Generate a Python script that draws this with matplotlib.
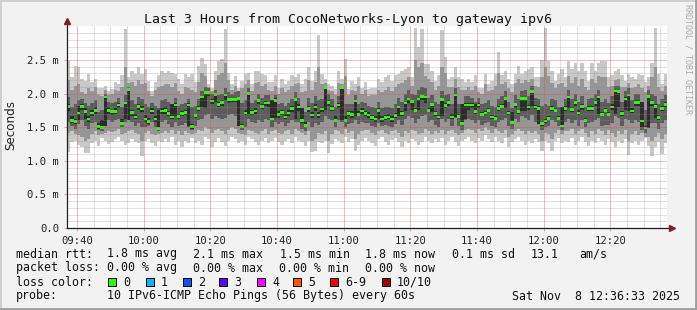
import numpy as np
import matplotlib
matplotlib.use("Agg")
import matplotlib.pyplot as plt

W, H = 697, 310
MONO = "DejaVu Sans Mono"

# minutes since 09:37, one value per minute (ms)
median = [1.81,1.60,1.58,1.71,1.81,1.73,1.62,1.71,1.75,1.51,1.50,1.95,1.75,1.73,1.73,1.83,1.56,1.86,2.06,1.72,1.65,1.81,1.77,1.62,1.58,1.74,1.62,1.48,1.74,1.75,
          1.70,1.65,1.83,1.66,1.70,1.72,1.83,1.51,1.67,1.78,1.95,2.02,2.02,1.89,1.99,1.84,1.87,1.98,1.91,1.91,1.91,1.93,1.51,1.71,2.00,1.72,1.74,1.90,1.81,1.86,
          1.86,1.62,1.90,1.69,1.72,1.65,1.71,1.78,1.91,1.80,1.60,1.53,1.78,1.68,1.80,1.68,1.77,2.09,1.87,1.78,1.60,1.83,2.09,1.60,1.70,1.69,1.89,1.69,1.74,1.70,
          1.68,1.64,1.62,1.75,1.62,1.64,1.65,1.62,1.67,1.80,1.70,1.86,1.92,1.88,1.75,1.92,1.96,1.95,1.75,1.84,1.70,1.65,1.91,1.82,1.87,1.65,1.98,1.66,1.56,1.83,
          1.83,1.83,1.73,1.83,1.69,1.71,1.75,1.65,1.63,1.78,1.81,1.93,1.71,1.57,1.84,1.73,1.93,1.93,1.80,2.03,1.80,1.78,1.55,1.59,1.63,1.78,1.75,1.63,1.52,1.78,
          1.95,1.76,1.87,1.71,1.81,1.60,1.78,1.78,1.87,1.95,1.69,1.75,1.69,1.80,2.04,2.03,1.70,1.92,1.98,1.74,1.87,1.87,1.59,1.49,1.96,1.87,1.81,1.64,1.78,1.84]

ping_max = [2.49,2.24,2.41,2.39,2.22,2.19,2.29,2.17,2.22,2.09,2.09,2.12,2.04,2.07,2.17,2.14,2.27,2.96,2.24,2.34,2.29,2.39,2.29,2.36,2.19,2.04,2.17,2.27,2.34,2.30,
            2.34,2.31,2.29,2.22,2.14,2.29,2.24,2.29,2.17,2.41,2.53,2.44,2.14,2.09,2.34,2.49,2.51,2.96,2.31,2.14,2.26,2.09,2.19,2.29,2.31,2.14,2.34,2.34,2.29,2.27,
            2.17,2.17,2.27,2.09,2.22,2.14,2.19,2.27,2.24,2.29,2.14,2.22,2.39,2.19,2.34,2.87,2.29,2.22,2.14,2.12,2.07,2.34,2.22,2.51,2.07,2.19,2.14,2.24,2.09,2.17,
            2.07,2.09,2.09,2.22,2.17,2.24,2.27,2.19,2.27,2.29,2.34,2.36,2.39,2.24,2.97,2.70,2.96,2.44,2.44,2.34,2.19,2.27,2.95,2.55,2.22,2.24,2.39,2.24,2.22,2.17,
            2.22,2.17,2.27,2.09,2.09,2.29,2.14,2.19,2.29,2.62,2.27,2.34,2.22,2.14,2.29,2.41,2.29,2.34,2.36,2.39,2.24,2.24,2.50,2.97,2.49,2.34,2.19,2.29,2.36,2.24,
            2.48,2.36,2.46,2.34,2.46,2.34,2.19,2.46,2.34,2.46,2.49,2.49,2.24,2.27,2.34,2.36,2.27,2.19,2.29,2.24,2.22,2.29,2.27,2.17,2.24,2.46,2.97,2.29,2.14,2.29]

ping_min = [1.13,1.28,1.30,1.24,1.20,1.11,1.12,1.26,1.30,1.22,1.34,1.30,1.25,1.28,1.33,1.36,1.30,1.24,1.27,1.32,1.28,1.26,1.07,1.30,1.32,1.26,1.22,1.30,1.28,1.33,
            1.28,1.36,1.24,1.30,1.20,1.30,1.26,1.34,1.27,1.30,1.24,1.36,1.32,1.20,1.28,1.34,1.28,1.22,1.30,1.36,1.33,1.26,1.30,1.24,1.35,1.32,1.28,1.23,1.30,1.34,
            1.26,1.30,1.34,1.28,1.24,1.30,1.32,1.26,1.36,1.30,1.28,1.22,1.30,1.13,1.14,1.28,1.26,1.30,1.11,1.25,1.33,1.30,1.26,1.36,1.28,1.32,1.15,1.24,1.30,1.34,
            1.30,1.26,1.22,1.32,1.36,1.28,1.24,1.31,1.34,1.28,1.20,1.30,1.27,1.33,1.30,1.24,1.28,1.35,1.30,1.26,1.32,1.28,1.34,1.24,1.30,1.36,1.28,1.22,1.30,1.33,
            1.36,1.30,1.26,1.34,1.30,1.38,1.32,1.28,1.36,1.30,1.26,1.34,1.20,1.28,1.32,1.36,1.30,1.24,1.30,1.26,1.32,1.28,1.14,1.30,1.26,1.15,1.30,1.34,1.26,1.30,
            1.28,1.34,1.24,1.30,1.36,1.28,1.22,1.30,1.26,1.34,1.30,1.24,1.32,1.28,1.20,1.30,1.26,1.33,1.09,1.26,1.30,1.24,1.30,1.34,1.22,1.07,1.20,1.28,1.10,1.26]

# 2nd / 9th ping
hi2 = [2.20,2.05,2.12,2.15,2.02,2.00,2.08,2.04,2.10,1.98,1.96,2.05,1.98,2.00,2.06,2.04,2.10,2.40,2.16,2.18,2.12,2.20,2.14,2.16,2.04,1.96,2.06,2.10,2.12,2.15,
       2.14,2.10,2.16,2.04,2.00,2.10,2.08,2.06,2.02,2.18,2.30,2.26,2.10,2.04,2.20,2.28,2.30,2.45,2.20,2.06,2.12,2.04,2.08,2.14,2.20,2.04,2.16,2.18,2.12,2.14,
       2.06,2.04,2.12,2.00,2.08,2.02,2.06,2.12,2.14,2.16,2.02,2.04,2.20,2.06,2.18,2.40,2.14,2.16,2.06,2.04,1.98,2.16,2.14,2.26,1.98,2.06,2.04,2.12,2.00,2.06,
       1.96,1.98,1.98,2.06,2.02,2.06,2.10,2.04,2.10,2.14,2.16,2.20,2.24,2.12,2.50,2.40,2.46,2.26,2.22,2.18,2.06,2.12,2.40,2.30,2.10,2.10,2.22,2.10,2.06,2.06,
       2.10,2.06,2.12,2.02,2.00,2.14,2.04,2.06,2.12,2.30,2.14,2.18,2.08,2.02,2.16,2.22,2.16,2.20,2.18,2.22,2.12,2.10,2.24,2.40,2.26,2.16,2.08,2.14,2.16,2.10,
       2.26,2.16,2.24,2.12,2.22,2.10,2.06,2.22,2.16,2.26,2.24,2.24,2.10,2.12,2.20,2.22,2.10,2.10,2.16,2.08,2.10,2.14,2.08,2.02,2.12,2.24,2.40,2.10,2.04,2.12]
lo2 = [1.42,1.45,1.40,1.38,1.36,1.30,1.32,1.40,1.44,1.38,1.40,1.42,1.44,1.43,1.45,1.48,1.40,1.42,1.45,1.46,1.42,1.40,1.30,1.42,1.45,1.40,1.38,1.40,1.42,1.45,
       1.42,1.46,1.40,1.44,1.38,1.44,1.42,1.40,1.42,1.46,1.44,1.50,1.48,1.42,1.46,1.48,1.44,1.40,1.46,1.50,1.48,1.42,1.40,1.38,1.46,1.45,1.42,1.40,1.44,1.48,
       1.40,1.44,1.46,1.42,1.40,1.44,1.46,1.40,1.48,1.44,1.42,1.38,1.44,1.30,1.32,1.42,1.40,1.44,1.30,1.40,1.46,1.44,1.40,1.48,1.42,1.44,1.32,1.40,1.44,1.46,
       1.46,1.42,1.38,1.44,1.46,1.42,1.40,1.44,1.46,1.42,1.36,1.44,1.42,1.46,1.44,1.40,1.42,1.48,1.44,1.40,1.44,1.42,1.46,1.40,1.44,1.46,1.42,1.38,1.42,1.46,
       1.48,1.46,1.42,1.48,1.44,1.50,1.46,1.42,1.48,1.44,1.42,1.46,1.36,1.40,1.44,1.48,1.44,1.40,1.44,1.42,1.44,1.40,1.30,1.42,1.40,1.32,1.42,1.46,1.40,1.44,
       1.44,1.48,1.40,1.44,1.48,1.42,1.36,1.44,1.40,1.48,1.44,1.38,1.46,1.42,1.36,1.44,1.40,1.46,1.30,1.40,1.44,1.38,1.42,1.36,1.36,1.30,1.36,1.42,1.32,1.40]

# 3rd..8th ping
hi3 = [1.95,1.80,1.85,1.90,1.92,1.86,1.82,1.86,1.90,1.72,1.75,2.00,1.88,1.86,1.88,1.94,1.80,1.98,2.10,1.90,1.85,1.95,1.92,1.84,1.80,1.86,1.82,1.78,1.90,1.92,
       1.88,1.85,1.94,1.82,1.84,1.86,1.92,1.80,1.82,1.92,2.04,2.10,2.08,2.00,2.06,1.98,2.00,2.08,2.02,2.00,2.02,2.04,1.86,1.90,2.08,1.86,1.90,2.00,1.94,1.98,
       1.98,1.86,1.98,1.84,1.86,1.82,1.86,1.92,2.02,1.94,1.78,1.72,1.94,1.86,1.96,1.90,1.92,2.12,2.00,1.92,1.80,1.96,2.12,1.84,1.84,1.84,1.98,1.84,1.88,1.86,
       1.82,1.80,1.78,1.88,1.78,1.80,1.80,1.78,1.84,1.94,1.88,2.00,2.06,2.00,1.98,2.06,2.10,2.08,1.94,1.98,1.88,1.84,2.04,1.98,2.00,1.84,2.08,1.84,1.80,1.96,
       1.96,1.94,1.88,1.94,1.84,1.86,1.90,1.82,1.80,1.92,1.96,2.04,1.88,1.78,1.98,1.92,2.04,2.06,1.96,2.12,1.94,1.92,1.82,1.84,1.82,1.92,1.90,1.80,1.76,1.92,
       2.06,1.92,2.00,1.88,1.96,1.80,1.92,1.94,2.00,2.06,1.88,1.92,1.86,1.96,2.12,2.12,1.88,2.04,2.08,1.90,2.00,2.00,1.80,1.76,2.06,2.00,1.96,1.84,1.92,1.98]
lo3 = [1.58,1.52,1.48,1.55,1.60,1.52,1.48,1.56,1.58,1.46,1.45,1.55,1.60,1.58,1.60,1.62,1.50,1.58,1.62,1.58,1.52,1.56,1.50,1.50,1.52,1.58,1.50,1.45,1.58,1.60,
       1.55,1.50,1.58,1.52,1.54,1.56,1.50,1.46,1.52,1.60,1.62,1.68,1.70,1.62,1.66,1.64,1.62,1.64,1.68,1.70,1.66,1.60,1.46,1.50,1.62,1.58,1.56,1.60,1.58,1.62,
       1.60,1.50,1.58,1.55,1.58,1.52,1.56,1.60,1.58,1.58,1.48,1.45,1.58,1.50,1.56,1.54,1.58,1.66,1.62,1.60,1.50,1.60,1.58,1.50,1.55,1.56,1.60,1.55,1.58,1.56,
       1.56,1.52,1.50,1.56,1.52,1.54,1.52,1.50,1.55,1.60,1.54,1.62,1.66,1.64,1.56,1.62,1.66,1.68,1.58,1.60,1.54,1.50,1.62,1.58,1.62,1.52,1.64,1.52,1.46,1.60,
       1.62,1.60,1.56,1.60,1.54,1.56,1.58,1.52,1.50,1.58,1.60,1.64,1.52,1.48,1.62,1.58,1.66,1.64,1.60,1.68,1.58,1.56,1.46,1.50,1.52,1.60,1.58,1.52,1.46,1.58,
       1.62,1.56,1.60,1.52,1.60,1.50,1.56,1.58,1.60,1.64,1.52,1.54,1.54,1.56,1.66,1.64,1.52,1.62,1.60,1.56,1.60,1.58,1.46,1.42,1.60,1.56,1.56,1.48,1.56,1.60]

# 5th / 6th ping
core_hi = [1.84,1.66,1.62,1.82,1.84,1.78,1.66,1.75,1.80,1.56,1.60,1.97,1.80,1.76,1.78,1.86,1.62,1.88,2.08,1.76,1.70,1.84,1.82,1.68,1.63,1.78,1.66,1.76,1.78,1.80,
           1.74,1.84,1.86,1.70,1.74,1.76,1.86,1.55,1.70,1.82,1.97,2.04,2.04,1.92,2.01,1.88,1.90,2.00,1.94,1.94,1.94,1.95,1.55,1.75,2.02,1.76,1.78,1.92,1.84,1.89,
           1.88,1.90,1.93,1.74,1.76,1.70,1.76,1.82,1.93,1.84,1.78,1.58,1.82,1.72,1.84,1.72,1.80,2.11,1.90,1.82,1.66,1.86,2.11,1.66,1.74,1.74,1.91,1.74,1.78,1.74,
           1.72,1.68,1.66,1.78,1.66,1.68,1.69,1.66,1.71,1.82,1.74,1.88,1.94,1.90,1.78,1.94,1.98,1.97,1.78,1.86,1.74,1.68,1.93,1.86,1.90,1.69,2.00,1.70,1.84,1.86,
           1.86,1.86,1.84,1.86,1.72,1.74,1.78,1.68,1.66,1.82,1.84,1.95,1.74,1.72,1.86,1.76,1.95,1.95,1.83,2.05,1.83,1.81,1.58,1.62,1.66,1.81,1.78,1.66,1.80,1.81,
           1.97,1.80,1.90,1.76,1.84,1.64,1.82,1.82,1.90,1.97,1.72,1.78,1.72,1.84,2.06,2.05,1.74,1.95,2.00,1.78,1.90,1.90,1.87,1.52,1.98,1.90,1.84,1.68,1.82,1.87]
core_lo = [1.74,1.56,1.55,1.60,1.76,1.62,1.58,1.66,1.70,1.48,1.48,1.52,1.70,1.68,1.70,1.78,1.53,1.62,1.60,1.66,1.62,1.76,1.72,1.58,1.55,1.70,1.58,1.46,1.70,1.70,
           1.66,1.62,1.66,1.62,1.66,1.68,1.52,1.48,1.63,1.74,1.80,1.78,1.96,1.84,1.88,1.80,1.82,1.90,1.86,1.87,1.88,1.52,1.49,1.68,1.70,1.68,1.70,1.84,1.77,1.82,
           1.80,1.60,1.64,1.64,1.68,1.62,1.66,1.72,1.62,1.74,1.56,1.50,1.72,1.64,1.74,1.64,1.72,1.76,1.82,1.74,1.58,1.78,1.60,1.57,1.66,1.64,1.66,1.66,1.70,1.66,
           1.64,1.60,1.58,1.62,1.58,1.60,1.62,1.58,1.63,1.66,1.66,1.74,1.86,1.76,1.72,1.76,1.90,1.86,1.72,1.72,1.66,1.62,1.66,1.78,1.82,1.62,1.65,1.63,1.54,1.62,
           1.76,1.78,1.70,1.78,1.66,1.68,1.72,1.62,1.60,1.74,1.78,1.78,1.68,1.55,1.78,1.70,1.74,1.74,1.76,1.82,1.77,1.55,1.52,1.56,1.60,1.74,1.72,1.60,1.50,1.74,
           1.78,1.72,1.82,1.68,1.76,1.57,1.74,1.74,1.82,1.69,1.66,1.72,1.66,1.76,1.70,1.80,1.67,1.76,1.74,1.71,1.82,1.82,1.50,1.47,1.49,1.82,1.64,1.61,1.74,1.80]

time_labels = ["09:40", "10:00", "10:20", "10:40", "11:00", "11:20", "11:40", "12:00", "12:20"]
y_ticks = [0.0, 0.5, 1.0, 1.5, 2.0, 2.5]
y_labels = ["0.0", "0.5 m", "1.0 m", "1.5 m", "2.0 m", "2.5 m"]

loss_names = ["0", "1", "2", "3", "4", "5", "6-9", "10/10"]
loss_colors = ["#26ff00", "#00b8ff", "#0059ff", "#5e00ff", "#ff00ff", "#ff5500", "#ff0000", "#a10000"]


def fx(px):
    return px / W


def fy(py):
    return 1 - py / H


fig = plt.figure(figsize=(W / 100, H / 100), dpi=100, facecolor="#f2f2f2")
ax = fig.add_axes([fx(67), 82 / H, 600 / W, 201.6 / H])
ax.set_facecolor("white")

x = np.arange(len(median))
layers = [(ping_min, ping_max, "#c8c8c8"),
          (lo2, hi2, "#969696"),
          (lo3, hi3, "#5c5c5c"),
          (core_lo, core_hi, "#2c2c2c")]
for lo, hi, col in layers:
    lo = np.array(lo)
    hi = np.array(hi)
    ax.bar(x, hi - lo, bottom=lo, width=1.0, align="edge", color=col,
           linewidth=0, zorder=2)
med = np.array(median)
ax.bar(x, 0.04, bottom=med - 0.02, width=1.0, align="edge", color="#26ff00",
       linewidth=0, zorder=3)

ax.set_xlim(0, 180)
ax.set_ylim(0, 3.0)
major_t = [3 + 20 * k for k in range(len(time_labels))]

# light grid on top of the smoke (looks like rrdtool's dotted grid)
minor_c = (0.56, 0.56, 0.56, 0.25)
major_c = (0.87, 0.31, 0.31, 0.38)
gkw = dict(lw=0.72, zorder=4, snap=True)
for k in range(1, 30):
    ax.axhline(k * 0.1, color=major_c if k % 5 == 0 else minor_c, **gkw)
for t in range(3, 180, 5):
    ax.axvline(t, color=major_c if (t - 3) % 20 == 0 else minor_c, **gkw)

for s in ["top", "right", "bottom", "left"]:
    ax.spines[s].set_visible(False)

ax.set_xticks(major_t)
ax.set_xticklabels(time_labels, family=MONO, fontsize=7.6, color="#222222")
ax.set_yticks(y_ticks)
ax.set_yticklabels(y_labels, family=MONO, fontsize=7.6, color="#222222")
ax.tick_params(axis="both", length=2.5, width=0.72, color="#e8a0a0", pad=3)

# axes lines with arrows
ax.plot([0, 1.004], [0, 0], transform=ax.transAxes, color="#1f1f1f", lw=0.9,
        clip_on=False, zorder=6)
ax.plot([0, 0], [0, 1.02], transform=ax.transAxes, color="#1f1f1f", lw=0.9,
        clip_on=False, zorder=6)
ax.plot([1.009], [0], marker=">", transform=ax.transAxes, color="#801f1f",
        markersize=4, clip_on=False, zorder=7)
ax.plot([0], [1.025], marker="^", transform=ax.transAxes, color="#801f1f",
        markersize=4, clip_on=False, zorder=7)

fig.text(fx(11), fy(125), "Seconds", rotation=90, ha="center", va="center",
         fontsize=8.6, color="#222222")
fig.text(fx(348), fy(19), "Last 3 Hours from CocoNetworks-Lyon to gateway ipv6",
         ha="center", va="center", family=MONO, fontsize=9.5, color="#111111")
fig.text(fx(688), fy(4), "RRDTOOL / TOBI OETIKER", rotation=270, ha="center",
         va="top", family=MONO, fontsize=6, color="#aaaaaa")

fs = 8.4
rows = {
    254: [(16, "median rtt:"), (107, "1.8 ms avg"), (193, "2.1 ms max"),
          (280, "1.5 ms min"), (365, "1.8 ms now"), (452, "0.1 ms sd"),
          (531, "13.1"), (579, "am/s")],
    268: [(16, "packet loss:"), (107, "0.00 % avg"), (193, "0.00 % max"),
          (279, "0.00 % min"), (365, "0.00 % now")],
    282: [(16, "loss color:")],
    296: [(16, "probe:"), (107, "10 IPv6-ICMP Echo Pings (56 Bytes) every 60s")],
}
for yy, items in rows.items():
    for xx, s in items:
        fig.text(fx(xx), fy(yy), s, ha="left", va="center", family=MONO,
                 fontsize=fs, color="#111111")
fig.text(fx(680), fy(296), "Sat Nov  8 12:36:33 2025", ha="right", va="center",
         family=MONO, fontsize=fs, color="#111111")

sq_x = [108, 146, 183, 219, 257, 293, 330, 382]
for sx, name, col in zip(sq_x, loss_names, loss_colors):
    fig.patches.append(plt.Rectangle((fx(sx), fy(286)), 8 / W, 8 / H,
                                     transform=fig.transFigure, facecolor=col,
                                     edgecolor="#000000", lw=0.7))
    fig.text(fx(sx + 15), fy(282), name, ha="left", va="center", family=MONO,
             fontsize=fs, color="#111111")

# frame
fig.add_artist(plt.Line2D([0, 1], [fy(0.5), fy(0.5)], color="#cfcfcf", lw=1.4))
fig.add_artist(plt.Line2D([fx(0.5), fx(0.5)], [0, 1], color="#cfcfcf", lw=1.4))
fig.add_artist(plt.Line2D([0, 1], [fy(H - 1), fy(H - 1)], color="#9e9e9e", lw=2))
fig.add_artist(plt.Line2D([fx(W - 1), fx(W - 1)], [0, 1], color="#9e9e9e", lw=2))

fig.savefig("out.png", dpi=100, facecolor=fig.get_facecolor())
